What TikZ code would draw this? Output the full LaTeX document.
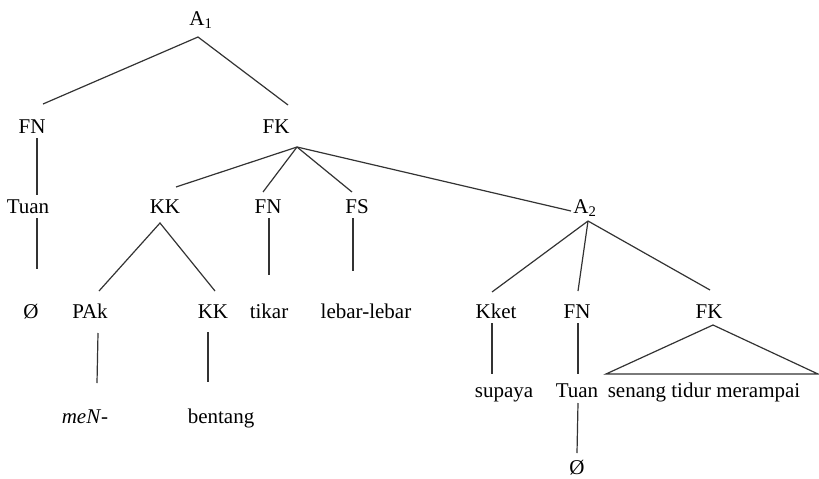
\documentclass[tikz,border=0pt]{standalone}
\usepackage{fontspec}
\setmainfont{Liberation Serif}
\begin{document}
\begin{tikzpicture}[x=1pt,y=-1pt,
  lbl/.style={anchor=base,inner sep=0pt,font=\fontsize{21}{24}\selectfont},
  br/.style={draw=black!80,line width=1.2pt}]
\useasboundingbox (0,0) rectangle (819,479);
% labels
\node[lbl] (A1) at (201,25) {A\textsubscript{1}};
\node[lbl] (FN1) at (32,133) {FN};
\node[lbl] (FK1) at (276,133) {FK};
\node[lbl] (Tuan1) at (28,213) {Tuan};
\node[lbl] (KK1) at (165,213) {KK};
\node[lbl] (FN2) at (268,213) {FN};
\node[lbl] (FS) at (357,213) {FS};
\node[lbl] (A2) at (585,213) {A\textsubscript{2}};
\node[lbl] (O1) at (31,318) {Ø};
\node[lbl] (PAk) at (90,318) {PAk};
\node[lbl] (KK2) at (213,318) {KK};
\node[lbl] (tikar) at (269,318) {tikar};
\node[lbl] (lebar) at (366,318) {lebar-lebar};
\node[lbl] (Kket) at (496,318) {Kket};
\node[lbl] (FN3) at (577,318) {FN};
\node[lbl] (FK2) at (709,318) {FK};
\node[lbl] (meN) at (85,423) {\textit{meN}-};
\node[lbl] (bentang) at (221,423) {bentang};
\node[lbl] (supaya) at (504,397) {supaya};
\node[lbl] (Tuan2) at (577,397) {Tuan};
\node[lbl] (senang) at (704,397) {senang tidur merampai};
\node[lbl] (O2) at (577,474) {Ø};
% connector ends
\coordinate (A1b) at (198,37);
\coordinate (FN1t) at (43,104);
\coordinate (FK1t) at (288,105);
\coordinate (FN1b) at (37,138);
\coordinate (Tuan1t) at (37,195);
\coordinate (Tuan1b) at (37,218);
\coordinate (O1t) at (37,269);
\coordinate (FK1b) at (297,147);
\coordinate (KK1t) at (176,187);
\coordinate (FN2t) at (263,192);
\coordinate (FSt) at (352,192);
\coordinate (A2t) at (571,211);
\coordinate (KK1b) at (160,223);
\coordinate (PAkt) at (99,291);
\coordinate (KK2t) at (215,291);
\coordinate (FN2b) at (269,218);
\coordinate (tikart) at (269,275);
\coordinate (FSb) at (353,218);
\coordinate (lebart) at (353,271);
\coordinate (PAkb) at (98,333);
\coordinate (meNt) at (97,383);
\coordinate (KK2b) at (208,332);
\coordinate (bentangt) at (208,382);
\coordinate (A2b) at (588,221);
\coordinate (Kkett) at (492,292);
\coordinate (FN3t) at (578,291);
\coordinate (FK2t) at (710,290);
\coordinate (Kketb) at (492,323);
\coordinate (supayat) at (492,374);
\coordinate (FN3b) at (578,323);
\coordinate (Tuan2t) at (578,374);
\coordinate (FK2b) at (713,325);
\coordinate (senL) at (606,374);
\coordinate (senR) at (818,374);
\coordinate (Tuan2b) at (578,403);
\coordinate (O2t) at (577,453);
% branches
\draw[br] (FN1t) -- (A1b) -- (FK1t);
\draw[br] (FN1b) -- (Tuan1t);
\draw[br] (Tuan1b) -- (O1t);
\draw[br] (FK1b) -- (KK1t);
\draw[br] (FK1b) -- (FN2t);
\draw[br] (FK1b) -- (FSt);
\draw[br] (FK1b) -- (A2t);
\draw[br] (PAkt) -- (KK1b) -- (KK2t);
\draw[br] (FN2b) -- (tikart);
\draw[br] (FSb) -- (lebart);
\draw[br] (PAkb) -- (meNt);
\draw[br] (KK2b) -- (bentangt);
\draw[br] (A2b) -- (Kkett);
\draw[br] (A2b) -- (FN3t);
\draw[br] (A2b) -- (FK2t);
\draw[br] (Kketb) -- (supayat);
\draw[br] (FN3b) -- (Tuan2t);
\draw[br,line join=miter] (senL) -- (FK2b) -- (senR) -- cycle;
\draw[br] (Tuan2b) -- (O2t);
\end{tikzpicture}
\end{document}
